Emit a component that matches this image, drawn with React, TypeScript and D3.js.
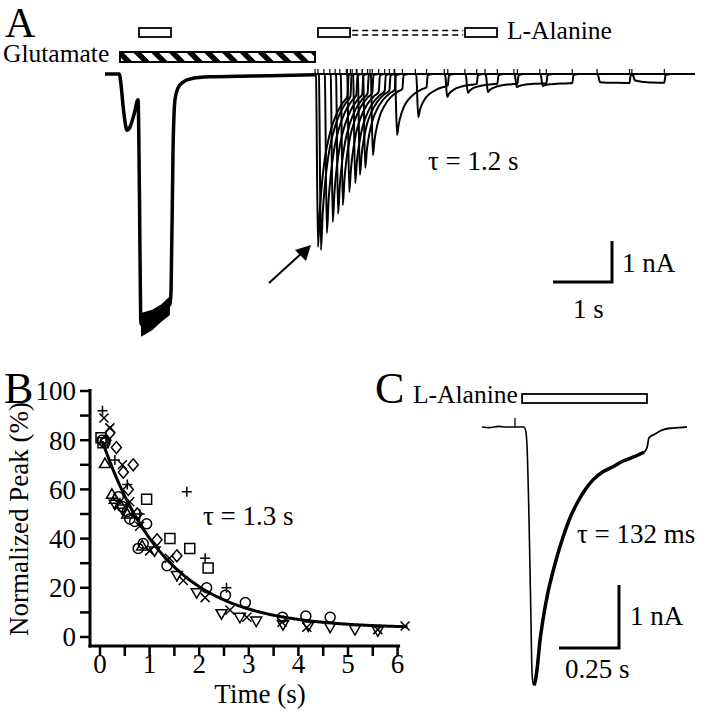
import React from 'react';
import * as d3 from 'd3';

const FONT = 'Liberation Serif';

// ---------------- Panel A data (time s, current nA) ----------------
const glutOnset: [number, number][] = [
  [0, 0], [0.24, 0], [0.27, -0.24], [0.305, -0.76], [0.34, -1.17], [0.373, -1.37],
  [0.42, -1.3], [0.49, -1.0], [0.56, -0.63], [0.585, -3.07], [0.605, -6.0],
];
const glutPlateau: [number, number][] = [[0.61, -6.1], [0.75, -5.98], [0.9, -5.82], [1.1, -5.62]];
const glutRise: [number, number][] = [
  [1.12, -5.27], [1.153, -1.85], [1.186, -0.63], [1.237, -0.34], [1.32, -0.2],
  [1.44, -0.12], [1.78, -0.07], [2.46, -0.05], [3.56, -0.02],
];
const glutBandTop: [number, number][] = [[0.61, -5.83], [0.8, -5.75], [0.95, -5.62], [1.1, -5.42]];
const glutBandBottom: [number, number][] = [[0.61, -6.41], [0.8, -6.25], [0.95, -6.05], [1.1, -5.88]];

const pulseTimes = [3.61, 3.66, 3.76, 3.86, 3.95, 4.03, 4.14, 4.24, 4.32, 4.41, 4.54, 4.95, 5.31, 5.8, 6.15, 6.49, 6.98, 7.42, 8.39, 8.98];
const pulsePeaks = [-4.22, -4.29, -3.88, -3.61, -3.41, -3.2, -2.88, -2.66, -2.46, -2.29, -1.98, -1.49, -1.05, -0.56, -0.46, -0.44, -0.32, -0.29, -0.2, -0.15];
const steadyCurrent = -0.22;
// desensitization profile: [time after peak (s), remaining fraction]
const decayProfile: [number, number][] = [[0, 1], [0.03, 0.78], [0.07, 0.6], [0.12, 0.45], [0.2, 0.31], [0.3, 0.2], [0.42, 0.12], [0.5, 0.08]];

const appBoxes: [number, number][] = [[0.576, 1.119], [3.61, 4.153], [6.102, 6.644]];
const glutBar: [number, number] = [0.254, 3.559];
const dashedSpan: [number, number] = [4.19, 6.07];

// ---------------- Panel B data ----------------
const xTicksB = [0, 1, 2, 3, 4, 5, 6];
const yTicksB = [0, 20, 40, 60, 80, 100];
const tauB = 1.3;
const fitAmp = 79;
const fitOffset = 3.5;
const squares: [number, number][] = [[0.02, 81], [0.06, 79], [0.94, 56], [1.41, 40], [1.81, 36], [2.18, 28]];
const circles: [number, number][] = [[0.04, 80], [0.1, 79], [0.37, 57], [0.45, 53], [0.55, 51], [0.6, 48], [0.7, 47], [0.94, 46], [0.87, 38], [0.77, 36], [1.35, 29], [2.15, 20], [2.53, 17], [2.93, 14], [3.68, 8], [4.15, 8.5], [4.64, 8]];
const diamonds: [number, number][] = [[0.2, 83], [0.33, 77], [0.47, 67], [0.67, 70], [0.57, 60], [0.75, 50], [1.15, 39.5], [1.55, 33], [0.12, 80]];
const trianglesUp: [number, number][] = [[0.1, 70.5], [0.24, 58], [0.3, 56], [0.4, 54], [0.55, 50], [0.85, 37]];
const trianglesDown: [number, number][] = [[0.3, 54], [0.45, 52], [1.1, 35], [1.55, 25], [1.95, 18], [2.45, 9.5], [2.82, 8], [3.15, 6.5], [3.69, 5], [4.2, 4.5], [4.64, 4], [5.14, 3], [5.6, 2.5]];
const crosses: [number, number][] = [[0.08, 89], [0.2, 85], [0.45, 70], [0.6, 55], [0.8, 45], [1.0, 35], [1.4, 32], [1.68, 23], [2.12, 16], [2.62, 11], [2.96, 8], [3.67, 6], [4.17, 4], [5.6, 3], [6.15, 4.5]];
const pluses: [number, number][] = [[0.05, 92], [0.3, 72], [0.55, 62], [0.8, 50], [1.75, 59], [2.12, 32], [2.55, 20]];

// ---------------- Panel C data ----------------
const traceC: [number, number][] = [
  [0, 0], [0.03, -0.01], [0.07, 0.01], [0.1, 0], [0.175, 0], [0.183, -0.08], [0.1875, -0.29],
  [0.196, -1.48], [0.204, -3.06], [0.208, -3.86], [0.2125, -4.06], [0.217, -4.1],
];
const traceCDecay: [number, number][] = [
  [0.217, -4.1], [0.221, -4.05], [0.229, -3.86], [0.242, -3.38], [0.254, -3.06], [0.275, -2.62], [0.292, -2.35],
  [0.317, -2.0], [0.3375, -1.75], [0.367, -1.44], [0.396, -1.21], [0.429, -1.0], [0.4625, -0.84],
  [0.504, -0.71], [0.546, -0.63], [0.5875, -0.54], [0.629, -0.48], [0.675, -0.4],
];
const traceCEnd: [number, number][] = [
  [0.675, -0.4], [0.6875, -0.33], [0.696, -0.17], [0.721, -0.11], [0.75, -0.05], [0.783, -0.02], [0.82, -0.01], [0.854, 0],
];
const alanineBarC: [number, number] = [0.167, 0.6875];
const artifactC = 0.1375;

// ---------------- Scales ----------------
const xA = d3.scaleLinear().domain([0, 10]).range([105, 695]);
const yA = d3.scaleLinear().domain([0, -1]).range([74, 115]);
const xB = d3.scaleLinear().domain([0, 1]).range([100, 149.6]);
const yB = d3.scaleLinear().domain([0, 100]).range([637, 391]);
const xC = d3.scaleLinear().domain([0, 1]).range([482, 722]);
const yC = d3.scaleLinear().domain([0, -1]).range([427, 490]);

const lineA = d3.line<[number, number]>().x(d => xA(d[0])).y(d => yA(d[1])).curve(d3.curveMonotoneX);
const lineB = d3.line<[number, number]>().x(d => xB(d[0])).y(d => yB(d[1])).curve(d3.curveBasis);
const lineC = d3.line<[number, number]>().x(d => xC(d[0])).y(d => yC(d[1])).curve(d3.curveMonotoneX);
const areaA = d3.area<[number, number, number]>().x(d => xA(d[0])).y0(d => yA(d[1])).y1(d => yA(d[2]));

function sweep(t: number, peak: number): [number, number][] {
  const pts: [number, number][] = [[t - 0.05, 0], [t - 0.035, -0.02]];
  decayProfile.forEach(([dt, g]) => pts.push([t + dt, steadyCurrent + (peak - steadyCurrent) * g]));
  pts.push([t + 0.52, -0.03], [t + 0.6, 0]);
  return pts;
}

const sym = {
  circle: 'M5,0A5,5 0 1,1 -5,0A5,5 0 1,1 5,0Z',
  square: 'M-5,-5H5V5H-5Z',
  diamond: 'M0,-6L5,0L0,6L-5,0Z',
  up: 'M0,-5.5L5.5,4L-5.5,4Z',
  down: 'M0,5.5L5.5,-4L-5.5,-4Z',
  cross: 'M-4.5,-4.5L4.5,4.5M-4.5,4.5L4.5,-4.5',
  plus: 'M-5,0H5M0,-5V5',
};

const T = (props: any) => <text fontFamily={FONT} {...props} />;

export default function App() {
  const fitPts: [number, number][] = d3.range(0.05, 6.21, 0.05).map(t => [t, fitAmp * Math.exp(-t / tauB) + fitOffset]);
  const band: [number, number, number][] = glutBandTop.map((d, i) => [d[0], d[1], glutBandBottom[i][1]]);
  const cornerA = { x: 612, y: 282 };
  const cornerC = { x: 619, y: 648 };
  const arrowTip = { x: xA(pulseTimes[0]) - 7, y: yA(pulsePeaks[0]) - 2 };
  const groups: [string, [number, number][]][] = [
    ['square', squares], ['circle', circles], ['diamond', diamonds], ['up', trianglesUp],
    ['down', trianglesDown], ['cross', crosses], ['plus', pluses],
  ];
  return (
    <svg width={709} height={719} style={{ position: 'absolute', left: 0, top: 0, background: '#fff' }}>
      <defs>
        <pattern id="hatch" patternUnits="userSpaceOnUse" width={17.7} height={20} patternTransform="skewX(45)">
          <rect x={0} y={0} width={17.7} height={20} fill="#fff" />
          <rect x={10} y={0} width={7.7} height={20} fill="#000" />
        </pattern>
      </defs>
      <rect x={0} y={0} width={709} height={719} fill="#fff" />

      {/* ===== Panel A ===== */}
      <T x={5} y={37} fontSize={42}>A</T>
      <T x={3} y={62} fontSize={25.5}>Glutamate</T>
      <rect x={xA(glutBar[0])} y={52} width={xA(glutBar[1]) - xA(glutBar[0])} height={10} fill="url(#hatch)" stroke="#000" strokeWidth={2} />
      {appBoxes.map((b, i) => (
        <rect key={i} x={xA(b[0])} y={28} width={xA(b[1]) - xA(b[0])} height={9} fill="#fff" stroke="#000" strokeWidth={1.8} />
      ))}
      {[30.5, 35].map((yy, i) => (
        <line key={i} x1={xA(dashedSpan[0])} x2={xA(dashedSpan[1])} y1={yy} y2={yy} stroke="#000" strokeWidth={1.6} strokeDasharray="6 4" />
      ))}
      <T x={507} y={39} fontSize={25.5}>L-Alanine</T>

      <line x1={xA(3.5)} x2={xA(10)} y1={yA(0)} y2={yA(0)} stroke="#000" strokeWidth={2} />
      <path d={areaA(band) || ''} fill="#000" />
      <path d={lineA([...glutOnset, ...glutPlateau, ...glutRise]) || ''} fill="none" stroke="#000" strokeWidth={3.5} />
      {pulseTimes.map((t, i) => (
        <path key={i} d={lineA(sweep(t, pulsePeaks[i])) || ''} fill="none" stroke="#000" strokeWidth={2} />
      ))}
      {pulseTimes.flatMap((t, i) => [t - 0.05, t + 0.5].map((tt, j) => (
        <line key={`${i}-${j}`} x1={xA(tt)} x2={xA(tt)} y1={yA(0)} y2={yA(0) - 5} stroke="#000" strokeWidth={1.2} />
      )))}
      <line x1={arrowTip.x - 42} y1={arrowTip.y + 38} x2={arrowTip.x - 8} y2={arrowTip.y + 7} stroke="#000" strokeWidth={2} />
      <path d={`M${arrowTip.x},${arrowTip.y} L${arrowTip.x - 5},${arrowTip.y + 16} L${arrowTip.x - 16},${arrowTip.y + 5} Z`} fill="#000" />
      <T x={428} y={170} fontSize={27}>τ = 1.2 s</T>
      <path d={`M${cornerA.x - (xA(1) - xA(0))},${cornerA.y} H${cornerA.x} V${cornerA.y - (yA(-1) - yA(0))}`} fill="none" stroke="#000" strokeWidth={3} />
      <T x={622} y={272} fontSize={27}>1 nA</T>
      <T x={573} y={318} fontSize={27}>1 s</T>

      {/* ===== Panel B ===== */}
      <T x={4} y={403} fontSize={44}>B</T>
      <line x1={90} x2={90} y1={389} y2={647.5} stroke="#000" strokeWidth={3} />
      <line x1={88.5} x2={xB(6.05)} y1={646} y2={646} stroke="#000" strokeWidth={3} />
      {d3.range(0, 101, 10).map(v => (
        <line key={v} x1={80} x2={90} y1={yB(v)} y2={yB(v)} stroke="#000" strokeWidth={2.5} />
      ))}
      {yTicksB.map(v => (
        <T key={v} x={76} y={yB(v)} dy="0.35em" fontSize={27} textAnchor="end">{v}</T>
      ))}
      {d3.range(0, 6.01, 0.5).map(t => (
        <line key={t} x1={xB(t)} x2={xB(t)} y1={646} y2={656} stroke="#000" strokeWidth={2.5} />
      ))}
      {xTicksB.map(t => (
        <T key={t} x={xB(t)} y={673} fontSize={27} textAnchor="middle">{t}</T>
      ))}
      <T x={260} y={703} fontSize={27} textAnchor="middle">Time (s)</T>
      <T transform="translate(28,519) rotate(-90)" fontSize={27} textAnchor="middle">Normalized Peak (%)</T>
      {groups.map(([name, pts]) => pts.map((p, i) => (
        <path key={`${name}${i}`} d={(sym as any)[name]} transform={`translate(${xB(p[0])},${yB(p[1])})`} fill="none" stroke="#000" strokeWidth={1.5} />
      )))}
      <path d={lineB(fitPts) || ''} fill="none" stroke="#000" strokeWidth={3} />
      <T x={203} y={525} fontSize={27}>τ = 1.3 s</T>

      {/* ===== Panel C ===== */}
      <T x={375} y={403} fontSize={44}>C</T>
      <T x={413} y={403} fontSize={25.5}>L-Alanine</T>
      <rect x={xC(alanineBarC[0])} y={394} width={xC(alanineBarC[1]) - xC(alanineBarC[0])} height={9} fill="#fff" stroke="#000" strokeWidth={1.8} />
      <path d={lineC(traceC) || ''} fill="none" stroke="#000" strokeWidth={1.6} />
      <path d={lineC(traceCDecay) || ''} fill="none" stroke="#000" strokeWidth={3.5} />
      <path d={lineC(traceCEnd) || ''} fill="none" stroke="#000" strokeWidth={1.8} />
      <line x1={xC(artifactC)} x2={xC(artifactC)} y1={yC(0)} y2={yC(0) - 9} stroke="#000" strokeWidth={1.3} />
      <T x={577} y={543} fontSize={27}>τ = 132 ms</T>
      <path d={`M${cornerC.x - (xC(0.25) - xC(0))},${cornerC.y} H${cornerC.x} V${cornerC.y - (yC(-1) - yC(0))}`} fill="none" stroke="#000" strokeWidth={3} />
      <T x={630} y={625} fontSize={27}>1 nA</T>
      <T x={565} y={678} fontSize={27}>0.25 s</T>
    </svg>
  );
}
